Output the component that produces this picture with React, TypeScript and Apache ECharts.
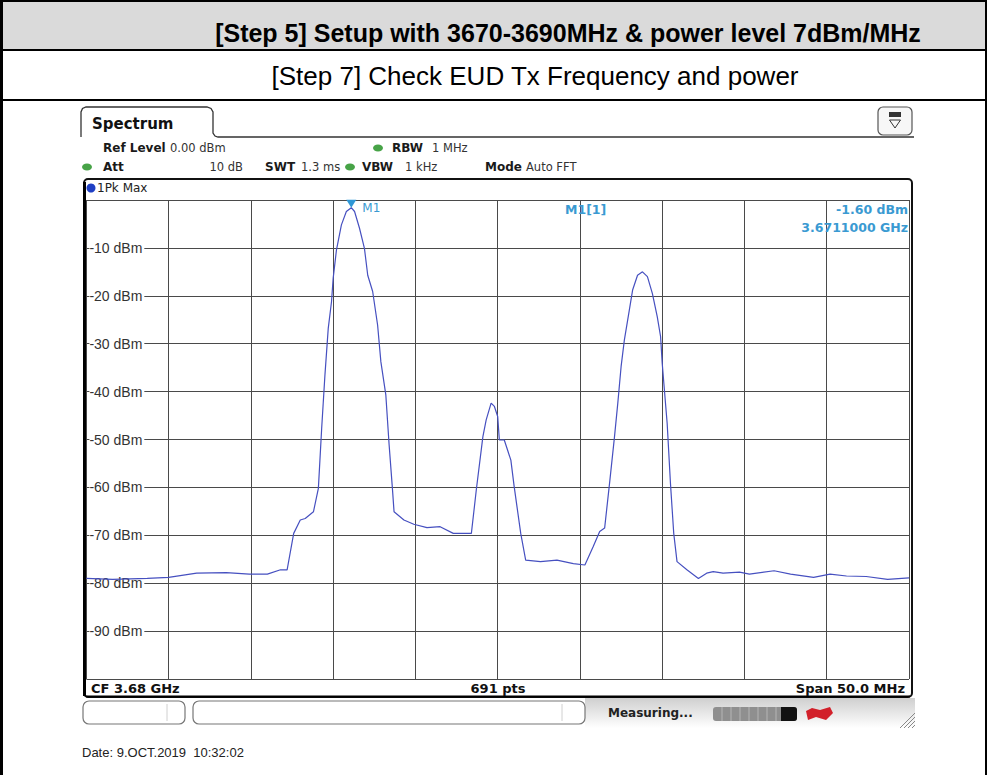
import React, { useEffect, useRef } from "react";
import * as echarts from "echarts";

// Trace: frequency (MHz) and level (dBm)
const freqMHz = [
  3655.0, 3656.6, 3658.7, 3660.0, 3661.7, 3663.5, 3664.9, 3666.0, 3666.8, 3667.2,
  3667.6, 3668.0, 3668.3, 3668.8, 3669.1, 3669.3, 3669.5, 3669.7, 3669.9, 3670.0,
  3670.2, 3670.5, 3670.8, 3671.1, 3671.3, 3671.6, 3671.9, 3672.1, 3672.4, 3672.7,
  3672.9, 3673.2, 3673.4, 3673.6, 3673.7, 3674.3, 3674.9, 3675.7, 3676.5, 3677.3,
  3678.4, 3678.7, 3679.1, 3679.3, 3679.6, 3679.8, 3680.0, 3680.1, 3680.4, 3680.8,
  3681.0, 3681.4, 3681.7, 3682.6, 3683.6, 3684.6, 3685.3, 3685.8, 3686.2, 3686.5,
  3686.8, 3687.1, 3687.3, 3687.5, 3687.7, 3688.0, 3688.2, 3688.5, 3688.8, 3689.1,
  3689.4, 3689.7, 3689.9, 3690.0, 3690.1, 3690.3, 3690.5, 3690.7, 3690.9, 3691.5,
  3692.2, 3692.7, 3693.1, 3693.7, 3694.7, 3695.3, 3696.8, 3697.8, 3699.2, 3700.2,
  3701.2, 3702.4, 3703.7, 3705.0,
];
const levelDbm = [
  -79.0, -79.2, -79.0, -78.8, -77.9, -77.8, -78.1, -78.1, -77.2, -77.2,
  -69.6, -66.8, -66.5, -65.1, -60.2, -47.7, -36.5, -26.8, -21.2, -16.3,
  -10.4, -5.2, -2.4, -1.6, -2.4, -5.9, -10.1, -15.7, -19.1, -26.1,
  -33.8, -40.7, -51.1, -60.2, -65.1, -66.8, -67.7, -68.4, -68.2, -69.6,
  -69.6, -60.5, -49.4, -45.9, -42.4, -43.1, -45.2, -50.1, -50.1, -54.3,
  -59.8, -69.6, -75.2, -75.5, -75.2, -75.9, -76.2, -72.4, -69.2, -68.5,
  -59.1, -49.4, -42.4, -34.8, -29.2, -23.0, -18.8, -15.7, -15.0, -16.0,
  -19.5, -24.4, -28.5, -34.1, -38.3, -46.6, -59.1, -69.6, -75.5, -77.2,
  -79.0, -77.9, -77.6, -77.9, -77.7, -78.1, -77.4, -78.1, -78.8, -78.1,
  -78.5, -78.6, -79.2, -78.9,
];

const yTickLabels = [-10, -20, -30, -40, -50, -60, -70, -80, -90];
const freqMin = 3655;
const freqMax = 3705;
const markerFreqMHz = 3671.1;
const markerLevelDbm = -1.6;
const sweepPoints = 691;

const SANS = "'DejaVu Sans', Verdana, sans-serif";
const ARIAL = "'Liberation Sans', Arial, sans-serif";

function txt(text: string, x: number, y: number, font: string, fill = "#1a1a1a", align = "left") {
  return {
    type: "text",
    x,
    y,
    silent: true,
    z: 20,
    style: {
      text,
      font,
      fill,
      textAlign: align,
      textVerticalAlign: "middle",
      align,
      verticalAlign: "middle",
    },
  };
}

function ln(x1: number, y1: number, x2: number, y2: number, stroke: string, lineWidth: number, z = 10) {
  return {
    type: "line",
    silent: true,
    z,
    shape: { x1, y1, x2, y2 },
    style: { stroke, lineWidth },
  };
}

export default function App() {
  const ref = useRef<HTMLDivElement>(null);

  useEffect(() => {
    if (!ref.current) return;
    const chart = echarts.init(ref.current, null, { renderer: "svg" });
    const data = freqMHz.map((f, i) => [f, levelDbm[i]]);

    const graphics: any[] = [
      // table
      { type: "rect", silent: true, z: 1, shape: { x: 0, y: 0, width: 987, height: 50 }, style: { fill: "#dadada" } },
      ln(0, 1, 987, 1, "#000", 2),
      ln(0, 50, 987, 50, "#000", 2),
      ln(0, 100, 987, 100, "#000", 2),
      ln(1.5, 0, 1.5, 775, "#000", 3),
      ln(986, 0, 986, 775, "#000", 2),
      txt("[Step 5] Setup with 3670-3690MHz & power level 7dBm/MHz", 568, 33, `bold 25px ${ARIAL}`, "#000", "center"),
      txt("[Step 7] Check EUD Tx Frequency and power", 535, 76, `26px ${ARIAL}`, "#000", "center"),

      // spectrum tab
      {
        type: "polyline",
        silent: true,
        z: 10,
        shape: {
          points: [
            [81, 137], [81, 112], [82.5, 108.5], [86, 107], [207, 107], [211, 108.5], [213, 112],
            [213, 133], [215, 136], [218, 137], [914, 137],
          ],
        },
        style: { stroke: "#333", lineWidth: 1.3, fill: null },
      },
      txt("Spectrum", 92, 124, `bold 15px ${SANS}`, "#111"),
      // icon button
      { type: "rect", silent: true, z: 10, shape: { x: 878, y: 107, width: 34, height: 28, r: 5 }, style: { fill: "#f7f7f7", stroke: "#555", lineWidth: 1.2 } },
      { type: "rect", silent: true, z: 11, shape: { x: 889, y: 112, width: 12, height: 5 }, style: { fill: "#333" } },
      { type: "polygon", silent: true, z: 11, shape: { points: [[889.5, 120], [900.5, 120], [895, 128]] }, style: { fill: null, stroke: "#333", lineWidth: 1 } },

      // info rows
      txt("Ref Level", 103, 148, `bold 12px ${SANS}`),
      txt("0.00 dBm", 170, 148, `11.5px ${SANS}`, "#333"),
      { type: "ellipse", silent: true, z: 11, shape: { cx: 378, cy: 148, rx: 5, ry: 3.5 }, style: { fill: "#47a347" } },
      txt("RBW", 392, 148, `bold 12px ${SANS}`),
      txt("1 MHz", 432, 148, `11.5px ${SANS}`, "#333"),
      { type: "ellipse", silent: true, z: 11, shape: { cx: 87, cy: 167, rx: 5, ry: 3.5 }, style: { fill: "#47a347" } },
      txt("Att", 103, 167, `bold 12px ${SANS}`),
      txt("10 dB", 243, 167, `11.5px ${SANS}`, "#333", "right"),
      txt("SWT", 265, 167, `bold 12px ${SANS}`),
      txt("1.3 ms", 301, 167, `11.5px ${SANS}`, "#333"),
      { type: "ellipse", silent: true, z: 11, shape: { cx: 350, cy: 167, rx: 5, ry: 3.5 }, style: { fill: "#47a347" } },
      txt("VBW", 362, 167, `bold 12px ${SANS}`),
      txt("1 kHz", 405, 167, `11.5px ${SANS}`, "#333"),
      txt("Mode", 485, 167, `bold 12px ${SANS}`),
      txt("Auto FFT", 526, 167, `11.5px ${SANS}`, "#333"),

      // diagram frame
      { type: "rect", silent: true, z: 10, shape: { x: 84, y: 179, width: 828, height: 518, r: 4 }, style: { fill: null, stroke: "#111", lineWidth: 2 } },
      ln(84.5, 182, 84.5, 696, "#000", 3),
      ln(86, 696.5, 910, 696.5, "#000", 2.2),
      { type: "circle", silent: true, z: 11, shape: { cx: 91, cy: 188, r: 4.5 }, style: { fill: "#1f3fc4" } },
      txt("1Pk Max", 97, 188, `12px ${SANS}`, "#222"),

      // marker readout
      txt("M1[1]", 565, 209, `bold 12.5px ${SANS}`, "#3a9ad2"),
      txt(`${markerLevelDbm.toFixed(2)} dBm`, 908, 209, `bold 12.5px ${SANS}`, "#3a9ad2", "right"),
      txt(`${(markerFreqMHz / 1000).toFixed(7)} GHz`, 908, 227, `bold 12.5px ${SANS}`, "#3a9ad2", "right"),

      // footer
      txt(`CF ${((freqMin + freqMax) / 2000).toFixed(2)} GHz`, 91, 688, `bold 13px ${SANS}`, "#111"),
      txt(`${sweepPoints} pts`, 498, 688, `bold 13px ${SANS}`, "#111", "center"),
      txt(`Span ${(freqMax - freqMin).toFixed(1)} MHz`, 905, 688, `bold 13px ${SANS}`, "#111", "right"),

      // status bar
      {
        type: "rect", silent: true, z: 5,
        shape: { x: 585, y: 698, width: 330, height: 30 },
        style: {
          fill: new echarts.graphic.LinearGradient(0, 0, 0, 1, [
            { offset: 0, color: "#cfcfcf" },
            { offset: 1, color: "#ffffff" },
          ]),
        },
      },
      { type: "rect", silent: true, z: 10, shape: { x: 83, y: 701, width: 102, height: 23, r: 6 }, style: { fill: "#fff", stroke: "#777", lineWidth: 1.2 } },
      ln(167, 704, 167, 721, "#d0d0d0", 1),
      { type: "rect", silent: true, z: 10, shape: { x: 193, y: 701, width: 392, height: 23, r: 6 }, style: { fill: "#fff", stroke: "#777", lineWidth: 1.2 } },
      ln(562, 704, 562, 721, "#d0d0d0", 1),
      txt("Measuring...", 608, 713, `bold 12px ${SANS}`, "#222"),
      { type: "rect", silent: true, z: 10, shape: { x: 713, y: 707, width: 84, height: 14, r: 3 }, style: { fill: "#8f8f8f" } },
      { type: "rect", silent: true, z: 11, shape: { x: 781, y: 707, width: 16, height: 14, r: [0, 3, 3, 0] }, style: { fill: "#111" } },
      ln(722, 707, 722, 721, "#b5b5b5", 1, 12),
      ln(731, 707, 731, 721, "#b5b5b5", 1, 12),
      ln(740, 707, 740, 721, "#b5b5b5", 1, 12),
      ln(749, 707, 749, 721, "#b5b5b5", 1, 12),
      ln(758, 707, 758, 721, "#b5b5b5", 1, 12),
      ln(767, 707, 767, 721, "#b5b5b5", 1, 12),
      ln(776, 707, 776, 721, "#b5b5b5", 1, 12),
      { type: "polygon", silent: true, z: 11, shape: { points: [[806, 711], [812, 708], [820, 710], [830, 707], [833, 713], [826, 720], [816, 717], [808, 720]] }, style: { fill: "#d2202a" } },
      ln(900, 728, 915, 713, "#888", 1),
      ln(904, 728, 915, 717, "#888", 1),
      ln(908, 728, 915, 721, "#888", 1),
      ln(912, 728, 915, 725, "#888", 1),

      txt("Date: 9.OCT.2019  10:32:02", 82, 752, `13px ${ARIAL}`, "#222"),
    ];

    const option: any = {
      animation: false,
      backgroundColor: "#fff",
      grid: { left: 86.4, top: 200, width: 822.6, height: 479, containLabel: false },
      xAxis: {
        type: "value",
        min: freqMin,
        max: freqMax,
        interval: 5,
        axisLabel: { show: false },
        axisTick: { show: false },
        axisLine: { show: false },
        splitLine: { show: true, lineStyle: { color: "#4a4a4a", width: 1 } },
      },
      yAxis: {
        type: "value",
        min: -100,
        max: 0,
        interval: 10,
        axisTick: { show: false },
        axisLine: { show: false },
        splitLine: { show: true, lineStyle: { color: "#4a4a4a", width: 1 } },
        axisLabel: {
          inside: true,
          margin: 3,
          color: "#333",
          fontSize: 14,
          fontFamily: "Liberation Sans",
          backgroundColor: "#fff",
          padding: [0, 2, 0, 0],
          formatter: (v: number) => (yTickLabels.includes(v) ? `${v} dBm` : ""),
        },
      },
      series: [
        {
          type: "line",
          data,
          showSymbol: false,
          smooth: false,
          z: 3,
          lineStyle: { color: "#4650c0", width: 1.2 },
          markPoint: {
            symbol: "path://M0,0L10,0L5,8Z",
            symbolSize: [10, 8],
            symbolOffset: [0, -4],
            itemStyle: { color: "#2f97d6" },
            label: {
              show: true,
              position: "right",
              distance: 6,
              offset: [0, 4],
              color: "#3a9ad2",
              fontSize: 12,
              fontFamily: "DejaVu Sans",
              formatter: "M1",
            },
            data: [{ coord: [markerFreqMHz, markerLevelDbm] }],
          },
        },
      ],
      graphic: { elements: graphics },
    };

    chart.setOption(option);
    return () => chart.dispose();
  }, []);

  return (
    <div
      ref={ref}
      style={{ position: "absolute", left: 0, top: 0, width: 987, height: 775, background: "#fff" }}
    />
  );
}
